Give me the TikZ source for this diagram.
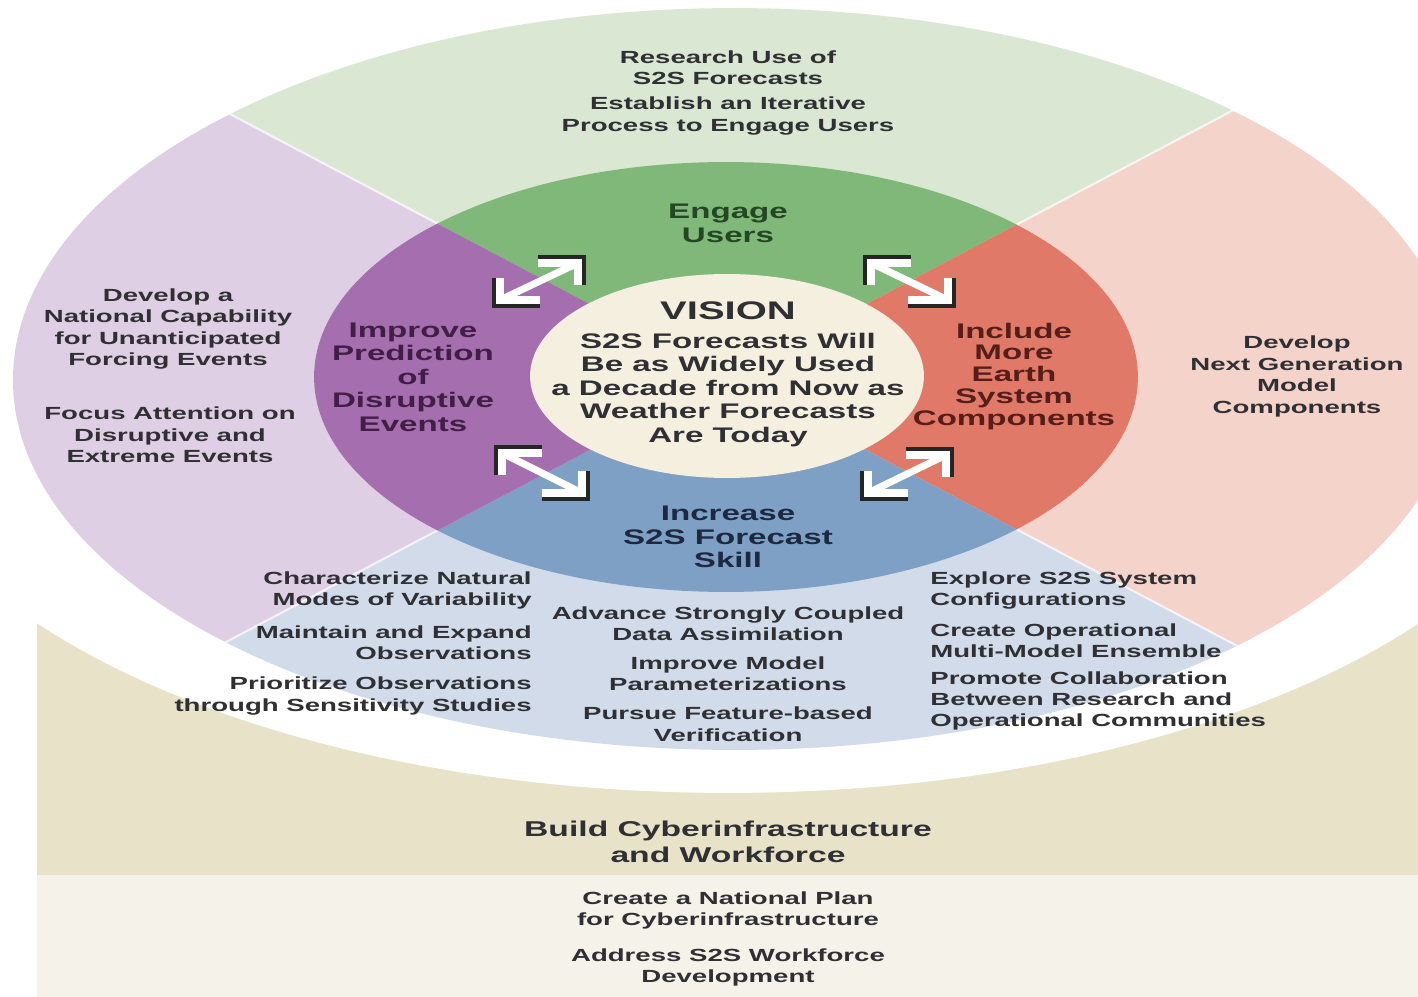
\documentclass[tikz,border=0pt]{standalone}
\usepackage{fontspec}
\usepackage{tikz}
\usetikzlibrary{positioning, calc}
\newfontfamily\figfont{Liberation Sans}[FakeStretch=1.57]
\definecolor{outgreen}{RGB}{217,231,211}
\definecolor{outlav}{RGB}{223,207,228}
\definecolor{outpink}{RGB}{244,212,202}
\definecolor{outblue}{RGB}{209,219,233}
\definecolor{ringgreen}{RGB}{128,184,122}
\definecolor{ringpurple}{RGB}{165,110,175}
\definecolor{ringred}{RGB}{225,121,105}
\definecolor{ringblue}{RGB}{125,160,196}
\definecolor{visioncream}{RGB}{244,239,222}
\definecolor{basetan}{RGB}{232,226,201}
\definecolor{basepale}{RGB}{245,242,234}
\definecolor{txtgray}{RGB}{48,48,52}
\definecolor{txtgreen}{RGB}{35,70,35}
\definecolor{txtpurple}{RGB}{65,30,70}
\definecolor{txtred}{RGB}{85,30,25}
\definecolor{txtblue}{RGB}{30,40,65}

\begin{document}
\begin{tikzpicture}[x=0.02cm, y=-0.02cm,
    outtxt/.style={inner sep=0pt, align=center, text=txtgray,
                   font=\fontsize{10}{12.2}\selectfont\figfont\bfseries},
    ringtxt/.style={inner sep=0pt, align=center,
                    font=\fontsize{12}{13.4}\selectfont\figfont\bfseries},
    arrk/.style={line width=4pt, black!85},
    arrw/.style={line width=4pt, white},
    divline/.style={white, line width=1.2pt, opacity=0.7}]
  \useasboundingbox (0,0) rectangle (1418,997);

  % foundation panel
  \fill[basetan] (37,617) rectangle (1418,875);
  \fill[basepale] (37,875) rectangle (1418,997);
  \fill[white] (728,380) ellipse [x radius=17.1cm, y radius=8.26cm];

  \coordinate (o) at (728,377);
  \coordinate (ul) at (-272,-151);
  \coordinate (ur) at (1728,-151);
  \coordinate (lr) at (1728,905);
  \coordinate (ll) at (-272,905);

  % outer ring
  \begin{scope}
    \clip (13,380) arc[start angle=180, end angle=0, x radius=14.44cm, y radius=7.44cm]
                   arc[start angle=0, end angle=-180, x radius=14.44cm, y radius=7.4cm] -- cycle;
    \fill[outgreen] (o) -- (ul) -- (ur) -- cycle;
    \fill[outpink] (o) -- (ur) -- (lr) -- cycle;
    \fill[outblue] (o) -- (lr) -- (ll) -- cycle;
    \fill[outlav] (o) -- (ll) -- (ul) -- cycle;
    \draw[divline] (ul) -- (lr) (ur) -- (ll);
  \end{scope}

  % middle ring
  \begin{scope}
    \clip (726,377) ellipse [x radius=8.24cm, y radius=4.3cm];
    \fill[ringgreen] (o) -- (ul) -- (ur) -- cycle;
    \fill[ringred] (o) -- (ur) -- (lr) -- cycle;
    \fill[ringblue] (o) -- (lr) -- (ll) -- cycle;
    \fill[ringpurple] (o) -- (ll) -- (ul) -- cycle;
  \end{scope}
  \fill[visioncream] (727,376) ellipse [x radius=3.94cm, y radius=2.04cm];

  % arrows between the themes
  \coordinate (a1) at (500,300);
  \coordinate (a2) at (578,263);
  \coordinate (b1) at (871,263);
  \coordinate (b2) at (948,300);
  \coordinate (c1) at (502,453);
  \coordinate (c2) at (582,493);
  \coordinate (d1) at (868,493);
  \coordinate (d2) at (946,455);
  \draw[arrk] (a1) ++(40,4) -| ++(-44,-26);
  \draw[arrk] (a2) ++(-40,-4) -| ++(44,26);
  \draw[arrk] (b1) ++(40,-4) -| ++(-44,26);
  \draw[arrk] (b2) ++(-40,4) -| ++(44,-26);
  \draw[arrk] (c1) ++(40,-4) -| ++(-44,26);
  \draw[arrk] (c2) ++(-40,4) -| ++(44,-26);
  \draw[arrk] (d1) ++(40,4) -| ++(-44,-26);
  \draw[arrk] (d2) ++(-40,-4) -| ++(44,26);
  \draw[arrw] (a1) -- (a2);
  \draw[arrw] (b1) -- (b2);
  \draw[arrw] (c1) -- (c2);
  \draw[arrw] (d1) -- (d2);
  \draw[arrw] (a1) ++(40,0) -| ++(-40,-22);
  \draw[arrw] (a2) ++(-40,0) -| ++(40,22);
  \draw[arrw] (b1) ++(40,0) -| ++(-40,22);
  \draw[arrw] (b2) ++(-40,0) -| ++(40,-22);
  \draw[arrw] (c1) ++(40,0) -| ++(-40,22);
  \draw[arrw] (c2) ++(-40,0) -| ++(40,-22);
  \draw[arrw] (d1) ++(40,0) -| ++(-40,-22);
  \draw[arrw] (d2) ++(-40,0) -| ++(40,22);

  % vision
  \node[ringtxt, text=txtgray, font=\fontsize{14.5}{16}\selectfont\figfont\bfseries]
        (vistitle) at (728,311) {VISION};
  \node[ringtxt, text=txtgray, below=7pt of vistitle] (vision)
        {S2S Forecasts Will\\Be as Widely Used\\a Decade from Now as\\Weather Forecasts\\Are Today};

  % themes
  \node[ringtxt, text=txtgreen] (engage) at (728,223.5) {Engage\\Users};
  \node[ringtxt, text=txtpurple] (improve) at (413,377) {Improve\\Prediction\\of\\Disruptive\\Events};
  \node[ringtxt, text=txtred, font=\fontsize{12}{12.5}\selectfont\figfont\bfseries]
        (include) at (1014,376.5) {Include\\More\\Earth\\System\\Components};
  \node[ringtxt, text=txtblue] (increase) at (728,537) {Increase\\S2S Forecast\\Skill};

  % actions
  \node[outtxt] (research) at (728,67.5) {Research Use of\\S2S Forecasts};
  \node[outtxt] (iterate) at (728,116) {Establish an Iterative\\Process to Engage Users};
  \node[outtxt] (natcap) at (168,329) {Develop a\\National Capability\\for Unanticipated\\Forcing Events};
  \node[outtxt] (focus) at (170,435) {Focus Attention on\\Disruptive and\\Extreme Events};
  \node[outtxt] (nextgen) at (1297,376.5) {Develop\\Next Generation\\Model\\Components};
  \node[outtxt, anchor=east, align=right] (modes) at (532,590.5) {Characterize Natural\\Modes of Variability};
  \node[outtxt, anchor=east, align=right] (obs) at (532,642.5) {Maintain and Expand\\Observations};
  \node[outtxt, anchor=east, align=right] (prio) at (532,696) {Prioritize Observations\\through Sensitivity Studies};
  \node[outtxt] (assim) at (728,623.5) {Advance Strongly Coupled\\Data Assimilation};
  \node[outtxt] (param) at (728,673.5) {Improve Model\\Parameterizations};
  \node[outtxt] (verif) at (728,724) {Pursue Feature-based\\Verification};
  \node[outtxt, anchor=west, align=left] (config) at (930,590.5) {Explore S2S System\\Configurations};
  \node[outtxt, anchor=west, align=left] (ensemble) at (930,640.5) {Create Operational\\Multi-Model Ensemble};
  \node[outtxt, anchor=west, align=left] (collab) at (930,701) {Promote Collaboration\\Between Research and\\Operational Communities};

  % foundation
  \node[ringtxt, text=txtgray, font=\fontsize{12.2}{14.8}\selectfont\figfont\bfseries]
        (cyber) at (728,842) {Build Cyberinfrastructure\\and Workforce};
  \node[outtxt] (plan) at (728,910.5) {Create a National Plan\\for Cyberinfrastructure};
  \node[outtxt] (workforce) at (728,967.5) {Address S2S Workforce\\Development};
\end{tikzpicture}
\end{document}
